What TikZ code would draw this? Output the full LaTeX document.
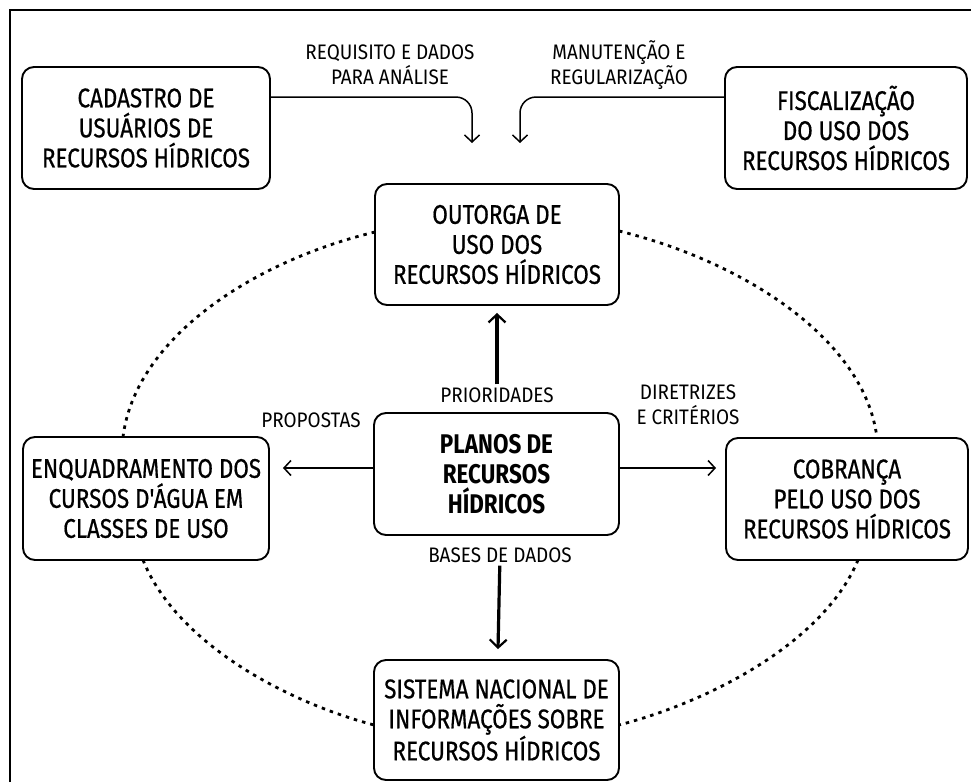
\documentclass[tikz,border=0pt]{standalone}
\usepackage{fontspec}
\setmainfont{Fira Sans}[FakeStretch=0.9]
\newfontfamily\boxfam{Fira Sans}[FakeStretch=0.83, FakeBold=0.6]
\newfontfamily\boldfam{Fira Sans}[FakeStretch=0.83]
\usetikzlibrary{arrows.meta,calc}
\newcommand\boxfont{\boxfam\fontsize{27}{30}\selectfont}
\newcommand\labfont{\fontsize{21}{24.5}\selectfont}
\begin{document}
\begin{tikzpicture}[x=1pt,y=-1pt,
  box/.style={draw, line width=1.9pt, rounded corners=12pt, fill=white, align=center, font=\boxfont, inner sep=0pt},
  lab/.style={align=center, font=\labfont, inner sep=3pt},
  thinarrow/.style={line width=1.5pt, -{Straight Barb[length=7pt,width=15pt,line width=1.5pt]}},
  thickarrow/.style={line width=3.2pt, -{Straight Barb[length=8pt,width=17pt,line width=2.2pt]}},
  dots/.style={line width=2.8pt, dash pattern=on 3.5pt off 5pt}]
\useasboundingbox (0,0) rectangle (971,782);
\draw[line width=1.6pt] (10,782) -- (10,10) -- (971,10);
% dotted ring
\draw[dots] (375,232) .. controls (250,262) and (135,340) .. (123,437);
\draw[dots] (143,560) .. controls (175,640) and (280,700) .. (374,725);
\draw[dots] (619,231) .. controls (745,262) and (865,340) .. (877,438);
\draw[dots] (858,560) .. controls (825,640) and (715,700) .. (619,725);
% boxes
\node[box, minimum width=248pt, minimum height=122pt] (cad) at (146,128) {CADASTRO DE\\USUÁRIOS DE\\RECURSOS HÍDRICOS};
\node[box, minimum width=242pt, minimum height=122pt] (fis) at (846,128) {FISCALIZAÇÃO\\DO USO DOS\\RECURSOS HÍDRICOS};
\node[box, minimum width=244pt, minimum height=121pt] (out) at (497,244.5) {OUTORGA DE\\USO DOS\\RECURSOS HÍDRICOS};
\node[box, minimum width=245pt, minimum height=122pt, font=\boldfam\fontsize{27}{30}\selectfont\bfseries] (pla) at (496.5,474) {PLANOS DE\\RECURSOS\\HÍDRICOS};
\node[box, minimum width=246pt, minimum height=123pt] (enq) at (146,498.5) {ENQUADRAMENTO DOS\\CURSOS D'ÁGUA EM\\CLASSES DE USO};
\node[box, minimum width=242pt, minimum height=122pt] (cob) at (847,499) {COBRANÇA\\PELO USO DOS\\RECURSOS HÍDRICOS};
\node[box, minimum width=245pt, minimum height=120pt] (sis) at (496.5,720) {SISTEMA NACIONAL DE\\INFORMAÇÕES SOBRE\\RECURSOS HÍDRICOS};
% labels
\node[lab] (req) at (390,65) {REQUISITO E DADOS\\PARA ANÁLISE};
\node[lab] (man) at (619,65) {MANUTENÇÃO E\\REGULARIZAÇÃO};
\node[lab] (prio) at (497,395) {PRIORIDADES};
\node[lab] (prop) at (311,420) {PROPOSTAS};
\node[lab] (dir) at (688,405) {DIRETRIZES\\E CRITÉRIOS};
\node[lab] (bas) at (500,555) {BASES DE DADOS};
% connectors
\coordinate (a1) at (472,143);
\coordinate (a2) at (520,143);
\draw[thinarrow, rounded corners=16pt] ($(cad.north east)!0.25!(cad.south east)$) -| (a1);
\draw[thinarrow, rounded corners=16pt] ($(fis.north west)!0.25!(fis.south west)$) -| (a2);
\draw[thickarrow, shorten >=7pt] (prio) -- (out);
\draw[thickarrow, shorten >=10pt] (bas) -- (sis);
\coordinate (pl) at ([yshift=6pt]pla.west);
\coordinate (pr) at ([yshift=6pt]pla.east);
\draw[thinarrow, shorten >=13pt] (pl) -- (pl -| enq.east);
\draw[thinarrow, shorten >=9pt] (pr) -- (pr -| cob.west);
\end{tikzpicture}
\end{document}
